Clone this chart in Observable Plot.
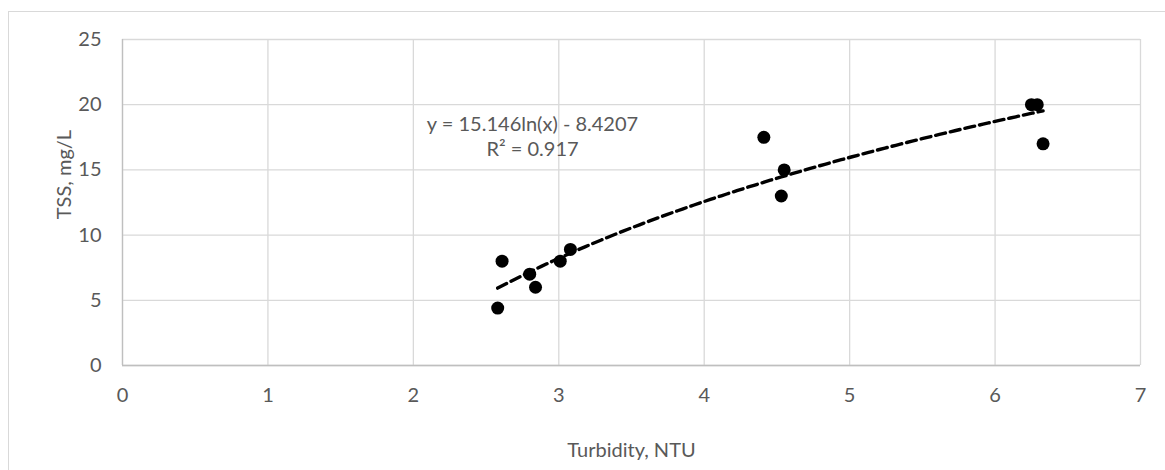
<!DOCTYPE html>
<html>
<head>
<meta charset="utf-8">
<script src="https://cdn.jsdelivr.net/npm/d3@7"></script>
<script src="https://cdn.jsdelivr.net/npm/@observablehq/plot@0.6"></script>
<style>
  html, body { margin: 0; padding: 0; background: #fff; overflow: hidden; }
  #wrap { position: relative; width: 1165px; height: 470px; overflow: hidden; }
  #border { position: absolute; left: 8px; top: 11px; width: 1200px; height: 520px; border: 1px solid #d9d9d9; box-sizing: border-box; }
  #chart { position: absolute; left: 0; top: 0; }
</style>
</head>
<body>
<div id="wrap"><div id="border"></div><div id="chart"></div></div>
<script>
// Data
const turbidity = [2.58, 2.61, 2.80, 2.84, 3.01, 3.08, 4.41, 4.53, 4.55, 6.25, 6.29, 6.33];
const tss       = [4.4,  8.0,  7.0,  6.0,  8.0,  8.9,  17.5, 13.0, 15.0, 20.0, 20.0, 17.0];
const xTicks = [0, 1, 2, 3, 4, 5, 6, 7];
const yTicks = [0, 5, 10, 15, 20, 25];
// Logarithmic trendline as printed on the chart
const trendSlope = 15.146;
const trendIntercept = -8.4207;
const eqLabel = "y = 15.146ln(x) - 8.4207";
const r2Label = "R² = 0.917";
const xTitle = "Turbidity, NTU";
const yTitle = "TSS, mg/L";

const points = turbidity.map((t, i) => ({x: t, y: tss[i]}));
const xMin = d3.min(turbidity), xMax = d3.max(turbidity);
const trend = d3.range(0, 101).map(i => {
  const x = xMin + (xMax - xMin) * i / 100;
  return {x, y: trendSlope * Math.log(x) + trendIntercept};
});

const font = "Lato, 'Open Sans', sans-serif";
const fs = 20;
const chart = Plot.plot({
  width: 1165,
  height: 470,
  marginLeft: 122,
  marginRight: 25,
  marginTop: 39,
  marginBottom: 105,
  style: {fontFamily: font, fontSize: fs + "px", color: "#595959", background: "transparent", overflow: "visible"},
  x: {domain: [0, 7]},
  y: {domain: [0, 25]},
  marks: [
    Plot.gridX(xTicks, {stroke: "#d9d9d9", strokeOpacity: 1, strokeWidth: 1.3}),
    Plot.gridY(yTicks, {stroke: "#d9d9d9", strokeOpacity: 1, strokeWidth: 1.3}),
    Plot.ruleX([0], {stroke: "#bfbfbf", strokeWidth: 1.3}),
    Plot.ruleY([0], {stroke: "#bfbfbf", strokeWidth: 1.3}),
    Plot.axisX(xTicks, {tickSize: 0, tickPadding: 22, label: null, fontSize: fs, tickFormat: d => String(d)}),
    Plot.axisY(yTicks, {tickSize: 0, tickPadding: 21, label: null, fontSize: fs, tickFormat: d => String(d)}),
    Plot.line(trend, {x: "x", y: "y", stroke: "#000", strokeWidth: 3.4, strokeDasharray: "10,5"}),
    Plot.dot(points, {x: "x", y: "y", r: 6.5, fill: "#000", stroke: null}),
    Plot.text([xTitle], {text: d => d, frameAnchor: "bottom", dy: 85, textAnchor: "middle", lineAnchor: "middle", fontSize: fs, fill: "#595959"}),
    Plot.text([yTitle], {text: d => d, frameAnchor: "left", dx: -58, dy: -28, rotate: -90, textAnchor: "middle", lineAnchor: "middle", fontSize: fs, fill: "#595959"}),
    Plot.text([eqLabel], {text: d => d, frameAnchor: "top-left", dx: 410, dy: 85, textAnchor: "middle", lineAnchor: "middle", fontSize: fs, fill: "#595959"}),
    Plot.text([r2Label], {text: d => d, frameAnchor: "top-left", dx: 410, dy: 110, textAnchor: "middle", lineAnchor: "middle", fontSize: fs, fill: "#595959"})
  ]
});
document.getElementById("chart").appendChild(chart);
</script>
</body>
</html>
